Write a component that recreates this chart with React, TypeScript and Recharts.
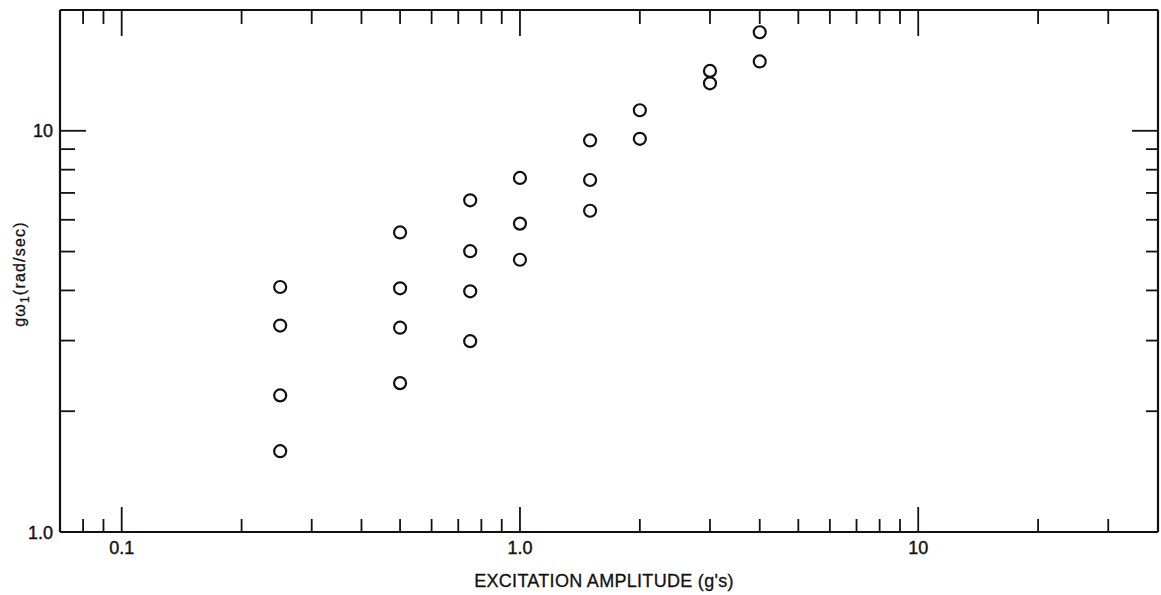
import React from 'react';
import { ScatterChart, Scatter, XAxis, YAxis } from 'recharts';

// Excitation amplitude (g's) at which measurements were taken
const excitationAmplitude = [0.25, 0.5, 0.75, 1.0, 1.5, 2.0, 3.0, 4.0];
// g·ω1 (rad/sec) values measured at each amplitude
const gOmega1 = [
  [4.08, 3.27, 2.19, 1.59],
  [5.58, 4.05, 3.23, 2.35],
  [6.71, 5.01, 3.98, 2.99],
  [7.63, 5.87, 4.77],
  [9.46, 7.54, 6.32],
  [11.25, 9.55],
  [14.1, 13.13],
  [17.6, 14.89],
];

const xDomain = [0.07, 40];
const yDomain = [1, 20];
const xTicks = [0.08, 0.09, 0.1, 0.2, 0.3, 0.4, 0.5, 0.6, 0.7, 0.8, 0.9, 1, 2, 3, 4, 5, 6, 7, 8, 9, 10, 20, 30];
const xMajorTicks = [0.1, 1, 10];
const xTickLabels = ['0.1', '1.0', '10'];
const yTicks = [1, 2, 3, 4, 5, 6, 7, 8, 9, 10];
const yMajorTicks = [1, 10];
const yTickLabels = ['1.0', '10'];

const xTitle = "EXCITATION AMPLITUDE (g's)";

const points = excitationAmplitude.flatMap((a, i) =>
  gOmega1[i].map((v) => ({ amplitude: a, omega: v }))
);

const FONT = '"Liberation Sans", Arial, Helvetica, sans-serif';
const INK = '#111';

function labelFor(value: number, majors: number[], labels: string[]): string | null {
  const i = majors.findIndex((m) => Math.abs(m - value) < 1e-9);
  return i >= 0 ? labels[i] : null;
}

const BottomTick = (props: any) => {
  const { x, y, payload } = props;
  const lab = labelFor(payload.value, xMajorTicks, xTickLabels);
  const len = lab ? 25 : 13;
  return (
    <g>
      <line x1={x} x2={x} y1={y} y2={y - len} stroke={INK} strokeWidth={1.8} />
      {lab && (
        <text x={x} y={y + 22} textAnchor="middle" fontSize={18} fontFamily={FONT} fill={INK} stroke={INK} strokeWidth={0.4}>
          {lab}
        </text>
      )}
    </g>
  );
};

const TopTick = (props: any) => {
  const { x, y, payload } = props;
  const lab = labelFor(payload.value, xMajorTicks, xTickLabels);
  const len = lab ? 26 : 14;
  return <line x1={x} x2={x} y1={y} y2={y + len} stroke={INK} strokeWidth={1.8} />;
};

const LeftTick = (props: any) => {
  const { x, y, payload } = props;
  const lab = labelFor(payload.value, yMajorTicks, yTickLabels);
  const len = lab ? 26 : 15;
  return (
    <g>
      {payload.value !== 1 && (
        <line x1={x} x2={x + len} y1={y} y2={y} stroke={INK} strokeWidth={1.8} />
      )}
      {lab && (
        <text x={x - 7} y={y + 6.5} textAnchor="end" fontSize={18} fontFamily={FONT} fill={INK} stroke={INK} strokeWidth={0.4}>
          {lab}
        </text>
      )}
    </g>
  );
};

const RightTick = (props: any) => {
  const { x, y, payload } = props;
  if (payload.value === 1) return <g />;
  const lab = labelFor(payload.value, yMajorTicks, yTickLabels);
  const len = lab ? 26 : 12;
  return <line x1={x} x2={x - len} y1={y} y2={y} stroke={INK} strokeWidth={1.8} />;
};

const XTitle = (props: any) => {
  const vb = props.viewBox || {};
  const cx = vb.x + vb.width / 2 - 5;
  return (
    <text x={cx} y={vb.y + 55} textAnchor="middle" fontSize={18} letterSpacing={0.3} fontFamily={FONT} fill={INK} stroke={INK} strokeWidth={0.3}>
      {xTitle}
    </text>
  );
};

const YTitle = (props: any) => {
  const vb = props.viewBox || {};
  const cy = vb.y + vb.height / 2 + 3;
  const bx = 25;
  return (
    <text
      x={bx}
      y={cy}
      transform={`rotate(-90, ${bx}, ${cy})`}
      textAnchor="middle"
      fontSize={16}
      letterSpacing={1.2}
      fontFamily={FONT}
      fill={INK}
      stroke={INK}
      strokeWidth={0.3}
    >
      <tspan>gω</tspan>
      <tspan dy={4} fontSize={12}>1</tspan>
      <tspan dy={-4}>(rad/sec)</tspan>
    </text>
  );
};

const Ring = (props: any) => {
  const { cx, cy } = props;
  return <circle cx={cx} cy={cy} r={6} fill="none" stroke={INK} strokeWidth={2.2} />;
};

const Nothing = () => <g />;

export default function App() {
  return (
    <div style={{ position: 'absolute', left: 0, top: 0, width: 1161, height: 595, background: '#fff' }}>
      <ScatterChart width={1161} height={595} margin={{ top: 9, right: 2, bottom: 0, left: 0 }}>
        <XAxis
          xAxisId="bottom"
          dataKey="amplitude"
          type="number"
          scale="log"
          domain={xDomain}
          allowDataOverflow
          ticks={xTicks}
          interval={0}
          height={63}
          tickSize={0}
          tickMargin={0}
          tickLine={false}
          axisLine={{ stroke: INK, strokeWidth: 2.2 }}
          tick={<BottomTick />}
          label={{ content: <XTitle /> }}
        />
        <XAxis
          xAxisId="top"
          orientation="top"
          dataKey="amplitude"
          type="number"
          scale="log"
          domain={xDomain}
          allowDataOverflow
          ticks={xTicks}
          interval={0}
          height={1}
          tickSize={0}
          tickMargin={0}
          tickLine={false}
          axisLine={{ stroke: INK, strokeWidth: 2.2 }}
          tick={<TopTick />}
        />
        <YAxis
          yAxisId="left"
          dataKey="omega"
          type="number"
          scale="log"
          domain={yDomain}
          allowDataOverflow
          ticks={yTicks}
          interval={0}
          width={60}
          tickSize={0}
          tickMargin={0}
          tickLine={false}
          axisLine={{ stroke: INK, strokeWidth: 2.2 }}
          tick={<LeftTick />}
          label={{ content: <YTitle /> }}
        />
        <YAxis
          yAxisId="right"
          orientation="right"
          dataKey="omega"
          type="number"
          scale="log"
          domain={yDomain}
          allowDataOverflow
          ticks={yTicks}
          interval={0}
          width={1}
          tickSize={0}
          tickMargin={0}
          tickLine={false}
          axisLine={{ stroke: INK, strokeWidth: 2.2 }}
          tick={<RightTick />}
        />
        <Scatter xAxisId="top" yAxisId="right" data={points} shape={<Nothing />} isAnimationActive={false} />
        <Scatter xAxisId="bottom" yAxisId="left" data={points} shape={<Ring />} isAnimationActive={false} />
      </ScatterChart>
    </div>
  );
}
